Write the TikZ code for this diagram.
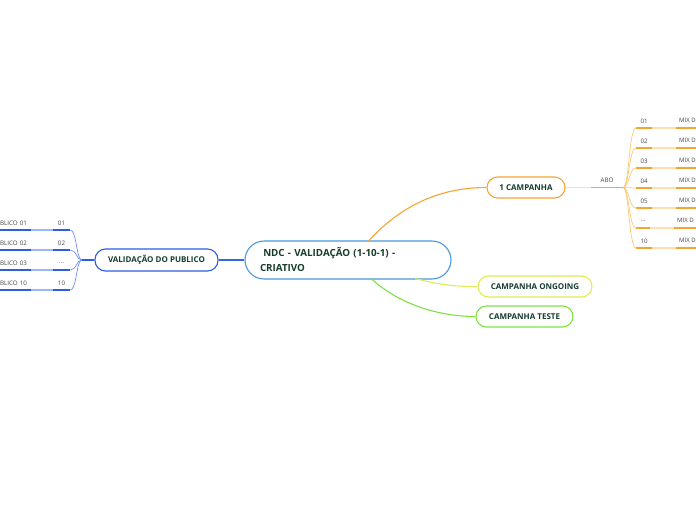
\documentclass[tikz,border=0pt]{standalone}
\usepackage{fontspec}
\setmainfont{Open Sans}
\definecolor{tcol}{HTML}{163D2C}
\definecolor{cblue}{HTML}{4A97DE}
\definecolor{vblue}{HTML}{2D5CE6}
\definecolor{vthin}{HTML}{9DB4FF}
\definecolor{vcurve}{HTML}{6F8FFF}
\definecolor{ora}{HTML}{F6A531}
\definecolor{orathin}{HTML}{FDE0B0}
\definecolor{oracurve}{HTML}{FBC978}
\definecolor{lime}{HTML}{DCEE55}
\definecolor{grn}{HTML}{7DE244}
\definecolor{lgray}{HTML}{444444}
\newcommand\tdots{...}
\begin{document}
\begin{tikzpicture}[x=1pt,y=-1pt,
  topic/.style={draw, line width=1.1pt, fill=white, rounded corners=10.5pt,
    minimum height=21pt, inner xsep=0pt,
    font=\bfseries\fontsize{8}{9}\selectfont, text=tcol},
  lab/.style={inner sep=0pt, minimum height=14pt, anchor=south,
    font=\fontsize{6.2}{7}\selectfont, text=lgray,
    append after command={(\tikzlastnode.south west) edge[draw=#1, line width=1.8pt] (\tikzlastnode.south east)}},
  conn/.style={line width=1.1pt},
  thin/.style={line width=1.8pt}
]
\useasboundingbox (0,0) rectangle (696,520);
\clip (0,0) rectangle (696,520);

% central node
\node[draw=cblue, line width=1.1pt, fill=white, rounded corners=19pt,
  minimum width=206pt, minimum height=38pt, text width=176pt, align=left,
  font=\bfseries\fontsize{9.8}{15}\selectfont, text=tcol] (c) at (348,260)
  {\ NDC - VALIDAÇÃO (1-10-1) -\\CRIATIVO};

% main topics
\node[topic, draw=vblue, minimum width=123pt, minimum height=22pt] (v) at (156.5,260) {VALIDAÇÃO DO PUBLICO};
\node[topic, draw=ora, minimum width=78pt] (k) at (526,187.5) {1 CAMPANHA};
\node[topic, draw=lime, minimum width=114pt] (g) at (535,286.5) {CAMPANHA ONGOING};
\node[topic, draw=grn, minimum width=97pt] (t) at (524.5,316.5) {CAMPANHA TESTE};

% main connectors
\draw[conn, draw=vblue!80!cblue] (c.west) -- (v.east);
\draw[conn, draw=ora] (368,241.5) .. controls (395,212) and (432,187.5) .. (k.west);
\draw[conn, draw=lime] (415,278.5) .. controls (440,285) and (455,286.5) .. (g.west);
\draw[conn, draw=grn] (371,278.5) .. controls (400,305) and (440,316.5) .. (t.west);

% left subtree
\coordinate (vb) at (82,260);
\draw[conn, draw=vblue] (v.west) -- (vb);
\foreach \i/\y/\a/\b in {1/230/01/BLICO 01, 2/250/02/BLICO 02, 3/270/\tdots/BLICO 03, 4/290/10/BLICO 10}{
  \node[lab=vblue, minimum width=17pt] (l\i) at (61.5,\y) {\a};
  \node[lab=vblue, anchor=south west, text width=31pt, align=left] (p\i) at (0,\y) {\b};
  \draw[thin, draw=vthin] (p\i.south east) -- (l\i.south west);
  \draw[line width=0.7pt, draw=vcurve] (vb) .. controls (76,260) and (77,\y) .. (l\i.south east);
}

% right subtree
\node[lab=ora, minimum width=32pt] (abo) at (607,187.5) {ABO};
\draw[thin, draw=orathin] (k.east) -- (abo.south west);
\foreach \i/\y/\a/\w/\s in {1/128/01/16/676, 2/148/02/16/676, 3/168/03/16/676, 4/188/04/16/676, 5/208/05/16/676, 6/228/\tdots/14/674, 7/248/10/16/676}{
  \node[lab=ora, minimum width=\w pt, anchor=south west] (r\i) at (636,\y) {\a};
  \node[lab=ora, anchor=south west, inner xsep=3pt, font=\fontsize{6}{7}\selectfont] (m\i) at (\s,\y) {MIX D};
  \draw[thin, draw=orathin] (r\i.south east) -- (m\i.south west);
  \draw[line width=0.7pt, draw=oracurve] (abo.south east) .. controls (629,187.5) and (629,\y) .. (r\i.south west);
}
\end{tikzpicture}
\end{document}
